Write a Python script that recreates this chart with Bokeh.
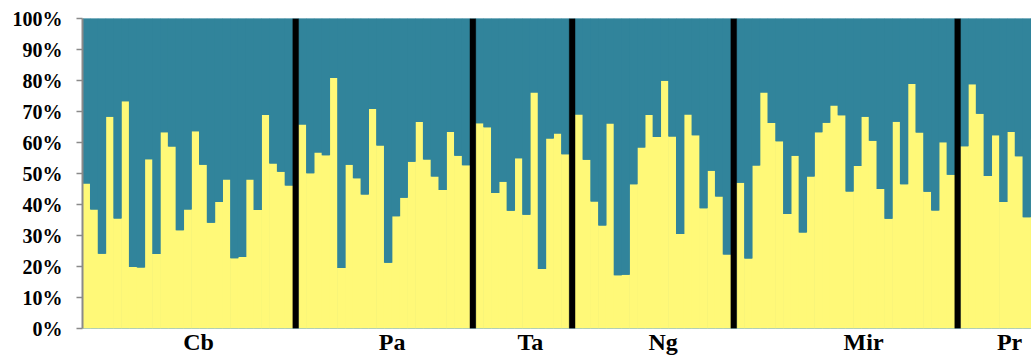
import numpy as np
from bokeh.plotting import figure
from bokeh.models import (ColumnDataSource, Range1d, FixedTicker, PrintfTickFormatter,
                          LinearAxis)
from bokeh.embed import file_html
from bokeh.resources import INLINE

# ---------------- data (membership % of cluster 1, yellow) ----------------
groups = ["Cb", "Pa", "Ta", "Ng", "Mir", "Pr"]
cb = [46.8, 38.4, 24.1, 68.3, 35.5, 73.3, 19.8, 19.7, 54.6, 24.0, 63.3, 58.7, 31.7, 38.4,
      63.6, 52.8, 34.1, 40.8, 48.1, 22.7, 23.1, 48.1, 38.2, 68.9, 53.2, 50.6, 46.1]
pa = [65.8, 50.1, 56.8, 55.9, 80.8, 19.5, 52.8, 48.5, 43.2, 70.8, 59.0, 21.2, 36.2, 42.2,
      53.8, 66.6, 54.5, 49.0, 44.7, 63.4, 55.7, 52.7]
ta = [66.2, 64.9, 43.7, 47.3, 38.0, 54.9, 36.7, 76.1, 19.2, 61.3, 62.9, 56.2]
ng = [69.0, 54.4, 41.0, 33.2, 66.1, 17.2, 17.3, 46.5, 58.4, 68.9, 61.8, 79.9, 61.9, 30.5,
      69.0, 62.3, 38.8, 50.9, 42.6, 23.9]
mir = [47.0, 22.6, 52.6, 76.1, 66.3, 60.4, 36.9, 55.7, 31.0, 49.0, 63.3, 66.4, 71.9, 68.8,
       44.2, 52.4, 68.3, 60.6, 45.0, 35.4, 66.7, 46.5, 78.9, 63.2, 44.1, 38.1, 60.1, 49.6]
pr = [58.8, 78.8, 69.3, 49.2, 62.3, 40.8, 63.4, 55.6, 35.9, 61.3]
y_ticks = [0, 10, 20, 30, 40, 50, 60, 70, 80, 90, 100]

cluster1 = [cb, pa, ta, ng, mir, pr]

# ---------------- layout helpers ----------------
GAP = 0.75                      # width of black separator, in bar units
label_shift = [1.4, 1.0, 1.0, 1.3, 2.3, 1.3]
YELLOW = "#FFF978"
TEAL = "#31849B"

xs, vals, sep_l, sep_r, label_x = [], [], [], [], []
start = 0.0
for i, g in enumerate(cluster1):
    n = len(g)
    xs.extend(list(start + np.arange(n) + 0.5))
    vals.extend(g)
    label_x.append(round(start + n / 2 + label_shift[i], 2))
    if i < len(cluster1) - 1:
        sep_l.append(start + n)
        sep_r.append(start + n + GAP)
    start += n + GAP

vals = np.array(vals)
src = ColumnDataSource(dict(x=xs, yellow=vals, teal=100 - vals))

p = figure(width=1031, height=358, output_backend="svg", toolbar_location=None,
           x_range=Range1d(0, 121.86), y_range=Range1d(0, 100),
           x_axis_location=None,
           min_border_left=82, min_border_right=0, min_border_top=18, min_border_bottom=30)
p.background_fill_color = TEAL

p.vbar_stack(["yellow", "teal"], x="x", width=1.08, source=src,
             fill_color=[YELLOW, TEAL], line_color=None)

p.quad(left=sep_l, right=sep_r, bottom=0, top=100, fill_color="black", line_color="black",
       line_width=0.3)

p.grid.visible = False
p.outline_line_color = None

ya = p.yaxis[0]
ya.ticker = FixedTicker(ticks=y_ticks)
ya.formatter = PrintfTickFormatter(format="%d%%")
ya.minor_tick_line_color = None
ya.major_tick_in = 0
ya.major_tick_out = 6
ya.major_tick_line_color = "#8A8A8A"
ya.major_tick_line_width = 1.5
ya.axis_line_color = "#8A8A8A"
ya.axis_line_width = 2
ya.major_label_standoff = 14
ya.major_label_text_font = "Liberation Serif"
ya.major_label_text_font_style = "bold"
ya.major_label_text_font_size = "20px"
ya.major_label_text_color = "black"

xa = LinearAxis(ticker=FixedTicker(ticks=label_x),
                major_label_overrides={x: g for x, g in zip(label_x, groups)})
xa.axis_line_color = None
xa.major_tick_line_color = None
xa.minor_tick_line_color = None
xa.major_tick_out = 0
xa.major_tick_in = 0
xa.major_label_standoff = 0
xa.major_label_text_font = "Liberation Serif"
xa.major_label_text_font_style = "bold"
xa.major_label_text_font_size = "24px"
xa.major_label_text_color = "black"
p.add_layout(xa, "below")

open("out.html", "w").write(file_html(p, INLINE))
